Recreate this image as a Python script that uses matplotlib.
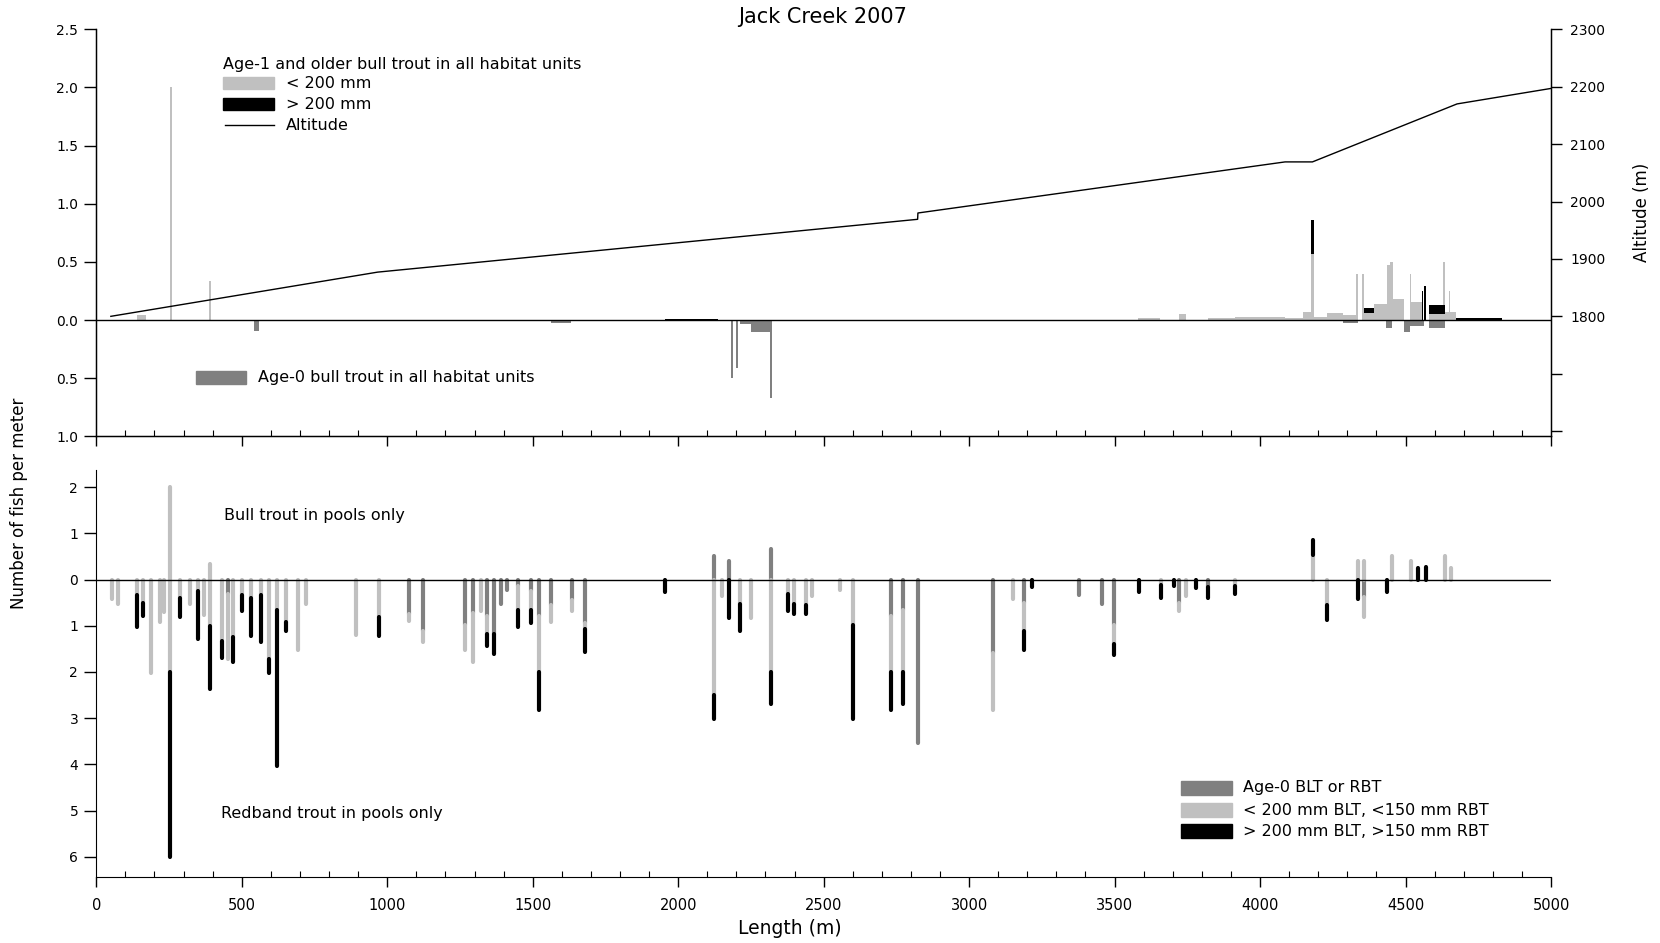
import numpy as np
import matplotlib
matplotlib.use("Agg")
import matplotlib.pyplot as plt
from matplotlib.collections import LineCollection
from matplotlib.patches import Rectangle
from matplotlib.ticker import MultipleLocator, FixedLocator, FuncFormatter

# ---- top panel: all habitat units (fish per meter), bars span unit extent (m)
sub_left = [141, 253, 388, 3582, 3720, 3821, 3913, 4085, 4147, 4175, 4185, 4229, 4286,
            4331, 4352, 4357, 4390, 4435, 4447, 4457, 4514, 4520, 4579, 4630, 4634, 4648]
sub_right = [171, 261, 393, 3655, 3747, 3913, 4085, 4147, 4175, 4185, 4229, 4286, 4335,
             4337, 4358, 4390, 4435, 4447, 4457, 4494, 4520, 4557, 4634, 4636, 4672, 4654]
sub_height = [0.045, 2.0, 0.335, 0.02, 0.054, 0.015, 0.023, 0.015, 0.072, 0.57, 0.023, 0.063, 0.043,
              0.40, 0.40, 0.063, 0.14, 0.47, 0.50, 0.178, 0.40, 0.158, 0.053, 0.50, 0.072, 0.25]

big_left = [1955, 4175, 4357, 4555, 4562, 4579, 4675]
big_right = [2138, 4185, 4390, 4561, 4570, 4634, 4830]
big_bottom = [0.0, 0.57, 0.063, 0.0, 0.0, 0.053, 0.0]
big_top = [0.012, 0.86, 0.10, 0.25, 0.29, 0.13, 0.02]

age0_left = [541, 1562, 2183, 2199, 2211, 2250, 2315, 4286, 4433, 4494, 4515, 4579]
age0_right = [559, 1630, 2189, 2205, 2250, 2318, 2321, 4335, 4455, 4515, 4562, 4634]
age0_depth = [0.092, 0.023, 0.50, 0.41, 0.03, 0.10, 0.67, 0.023, 0.07, 0.106, 0.052, 0.066]

alt_x = [50, 967, 2823, 2824, 4086, 4180, 4677, 5000]
alt_y = [1800, 1877, 1969, 1980, 2069, 2069, 2170, 2197]

# ---- bottom panel: pools only, stacked segments (fish per meter)
pool_x = [55, 76, 141, 161, 189, 218, 232, 254, 286, 323, 351, 371, 391, 431, 451, 471, 501,
          531, 567, 592, 622, 653, 692, 722, 894, 971, 1075, 1124, 1267, 1296, 1322, 1342,
          1366, 1391, 1413, 1450, 1495, 1522, 1564, 1635, 1679, 1956, 2122, 2152, 2173, 2213,
          2252, 2318, 2378, 2397, 2441, 2460, 2557, 2601, 2733, 2773, 2824, 3081, 3152, 3188,
          3216, 3376, 3457, 3499, 3583, 3660, 3703, 3722, 3746, 3780, 3821, 3913, 4181, 4230,
          4336, 4356, 4436, 4453, 4518, 4544, 4570, 4634, 4656]
blt_age0 = [0] * 42 + [0.50, 0, 0.40, 0, 0, 0.67] + [0] * 35
blt_small = ([0] * 7 + [2.0, 0, 0, 0, 0, 0.33] + [0] * 59 +
             [0.52, 0, 0.40, 0.40, 0, 0.50, 0.40, 0, 0, 0.50, 0.25])
blt_large = [0] * 72 + [0.34, 0, 0, 0, 0, 0, 0, 0.24, 0.28, 0, 0]
rbt_age0 = [0, 0, 0, 0, 0, 0, 0, 0, 0, 0, 0, 0, 0, 0, 0.32, 0, 0,
            0, 0, 0, 0, 0, 0, 0, 0, 0, 0.74, 1.11, 0.98, 0.72, 0, 0.79,
            1.18, 0.53, 0.22, 0.14, 0.25, 0.79, 0.55, 0.44, 0.93, 0, 0, 0, 0, 0,
            0, 0, 0, 0, 0, 0, 0, 0, 0.78, 0.66, 3.53, 1.59, 0, 0.50,
            0, 0.33, 0.53, 0.98, 0, 0, 0, 0.50, 0, 0, 0.17, 0, 0, 0,
            0, 0.37, 0, 0, 0, 0, 0, 0, 0]
rbt_small = [0.42, 0.53, 0.33, 0.50, 2.03, 0.92, 0.70, 2.0, 0.39, 0.53, 0.25, 0.77, 1.0, 1.32, 1.39, 1.24, 0.33,
             0.39, 0.33, 1.71, 0.67, 0.91, 1.52, 0.53, 1.21, 0.80, 0.15, 0.25, 0.54, 1.06, 0.69, 0.39,
             0, 0, 0, 0.52, 0.41, 1.21, 0.36, 0.25, 0.14, 0, 2.49, 0.35, 0, 0.53,
             0.83, 2.0, 0.32, 0.53, 0.56, 0.35, 0.22, 0.98, 1.22, 1.34, 0, 1.23, 0.42, 0.62,
             0, 0, 0, 0.41, 0, 0.11, 0, 0.19, 0.35, 0, 0, 0.14, 0, 0.56,
             0, 0.45, 0, 0, 0, 0, 0, 0, 0]
rbt_large = [0, 0, 0.69, 0.28, 0, 0, 0, 4.0, 0.43, 0, 1.03, 0, 1.37, 0.38, 0, 0.54, 0.36,
             0.83, 1.03, 0.32, 3.36, 0.21, 0, 0, 0, 0.42, 0, 0, 0, 0, 0, 0.25,
             0.44, 0, 0, 0.36, 0.29, 0.82, 0, 0, 0.49, 0.27, 0.53, 0, 0.83, 0.59,
             0, 0.69, 0.37, 0.22, 0.18, 0, 0, 2.04, 0.82, 0.69, 0, 0, 0, 0.41,
             0.16, 0, 0, 0.24, 0.27, 0.29, 0.15, 0, 0, 0.19, 0.23, 0.17, 0, 0.32,
             0.42, 0, 0.27, 0, 0, 0, 0, 0, 0]

C_AGE0 = "#808080"
C_SMALL = "#c0c0c0"
C_BIG = "#000000"

W, H = 1660, 943
FS = 11.5


def fx(px):
    return px / W


def fy(py):
    return 1 - py / H


fig = plt.figure(figsize=(16.6, 9.43), dpi=100)
ax = fig.add_axes([fx(96.3), fy(436.3), fx(1551 - 96.3), (436.3 - 29.3) / H])
axb = fig.add_axes([fx(96.3), fy(876.7), fx(1551 - 96.3), (876.7 - 470) / H])

# ---- top panel
sl, sr = np.array(sub_left), np.array(sub_right)
ax.bar(sl, sub_height, width=sr - sl, align="edge", color=C_SMALL, linewidth=0, zorder=2)
bl, br = np.array(big_left), np.array(big_right)
ax.bar(bl, np.array(big_top) - np.array(big_bottom), width=br - bl, bottom=big_bottom,
       align="edge", color=C_BIG, linewidth=0, zorder=3)
al, ar = np.array(age0_left), np.array(age0_right)
ax.bar(al, -np.array(age0_depth), width=ar - al, align="edge", color=C_AGE0, linewidth=0, zorder=2)
ax.axhline(0, color="black", lw=1.0, zorder=4)

ax.set_xlim(0, 5000)
ax.set_ylim(-1, 2.5)
ax.set_yticks([2.5, 2.0, 1.5, 1.0, 0.5, 0.0, -0.5, -1.0])
ax.yaxis.set_major_formatter(FuncFormatter(lambda v, p: f"{abs(v):.1f}"))
ax.spines["top"].set_visible(False)
for s in ax.spines.values():
    s.set_linewidth(1.0)

ax2 = ax.twinx()
ax2.plot(alt_x, alt_y, color="black", lw=1.0)
ax2.set_ylim(1591, 2300)
ax2.yaxis.set_major_locator(FixedLocator([1600, 1700, 1800, 1900, 2000, 2100, 2200, 2300]))
ax2.yaxis.set_major_formatter(FuncFormatter(lambda v, p: f"{v:.0f}" if v >= 1800 else ""))
ax2.spines["top"].set_visible(False)
ax2.tick_params(axis="y", direction="out", length=8, width=1, labelsize=10, pad=6)

# ---- bottom panel
segs = {C_AGE0: [], C_SMALL: [], C_BIG: []}
for i, x in enumerate(pool_x):
    base = 0.0
    for val, c in ((blt_age0[i], C_AGE0), (blt_small[i], C_SMALL), (blt_large[i], C_BIG)):
        if val > 0:
            segs[c].append([(x, base), (x, base + val)])
            base += val
    base = 0.0
    for val, c in ((rbt_age0[i], C_AGE0), (rbt_small[i], C_SMALL), (rbt_large[i], C_BIG)):
        if val > 0:
            segs[c].append([(x, -base), (x, -(base + val))])
            base += val
for c in (C_AGE0, C_SMALL, C_BIG):
    lc = LineCollection(segs[c], colors=c, linewidths=3.0, capstyle="round", zorder=2)
    axb.add_collection(lc)
axb.axhline(0, color="black", lw=1.0, zorder=4)
axb.set_xlim(0, 5000)
axb.set_ylim(-6.43, 2.37)
axb.set_yticks(range(-6, 3))
axb.yaxis.set_major_formatter(FuncFormatter(lambda v, p: f"{abs(v):.0f}"))
for s in ("top", "right"):
    axb.spines[s].set_visible(False)

for a in (ax, axb):
    a.xaxis.set_major_locator(MultipleLocator(500))
    a.xaxis.set_minor_locator(MultipleLocator(100))
    a.tick_params(axis="x", which="major", direction="out", length=7, width=1)
    a.tick_params(axis="x", which="minor", direction="in", length=4, width=0.8)
    a.tick_params(axis="y", direction="out", length=9, width=1, labelsize=10, pad=4)
    a.patch.set_visible(False)
ax.tick_params(axis="x", labelbottom=False)
axb.tick_params(axis="x", which="major", labelsize=10.5, pad=8)

# ---- text
fig.text(fx(823), fy(17), "Jack Creek 2007", ha="center", va="center", fontsize=15)
fig.text(fx(19), fy(503), "Number of fish per meter", rotation=90, ha="center", va="center", fontsize=12)
fig.text(fx(1642), fy(212), "Altitude (m)", rotation=90, ha="center", va="center", fontsize=12)
fig.text(fx(790), fy(929), "Length (m)", ha="center", va="center", fontsize=13.5)

# top legend
fig.text(fx(223), fy(65), "Age-1 and older bull trout in all habitat units", ha="left", va="center", fontsize=FS)
fig.add_artist(Rectangle((fx(223), fy(89.3)), fx(51), 12 / H, color=C_SMALL, transform=fig.transFigure))
fig.add_artist(Rectangle((fx(223), fy(110.3)), fx(51), 12.6 / H, color=C_BIG, transform=fig.transFigure))
fig.add_artist(plt.Line2D([fx(225), fx(274)], [fy(125), fy(125)], color="black", lw=1.0,
                          transform=fig.transFigure))
fig.text(fx(286), fy(84), "< 200 mm", ha="left", va="center", fontsize=FS)
fig.text(fx(286), fy(104.7), "> 200 mm", ha="left", va="center", fontsize=FS)
fig.text(fx(286), fy(125), "Altitude", ha="left", va="center", fontsize=FS)

fig.add_artist(Rectangle((fx(196.4), fy(384)), fx(50), 13 / H, color=C_AGE0, transform=fig.transFigure))
fig.text(fx(258), fy(377.7), "Age-0 bull trout in all habitat units", ha="left", va="center", fontsize=FS)

# bottom panel labels
fig.text(fx(224), fy(515.7), "Bull trout in pools only", ha="left", va="center", fontsize=FS)
fig.text(fx(221), fy(813.3), "Redband trout in pools only", ha="left", va="center", fontsize=FS)

leg = [(787.7, C_AGE0, "Age-0 BLT or RBT"),
       (810.3, C_SMALL, "< 200 mm BLT, <150 mm RBT"),
       (831.3, C_BIG, "> 200 mm BLT, >150 mm RBT")]
for yc, c, t in leg:
    fig.add_artist(Rectangle((fx(1181), fy(yc + 7)), fx(51), 14 / H, color=c, transform=fig.transFigure))
    fig.text(fx(1243), fy(yc), t, ha="left", va="center", fontsize=FS)

fig.savefig("out.png", dpi=100)
